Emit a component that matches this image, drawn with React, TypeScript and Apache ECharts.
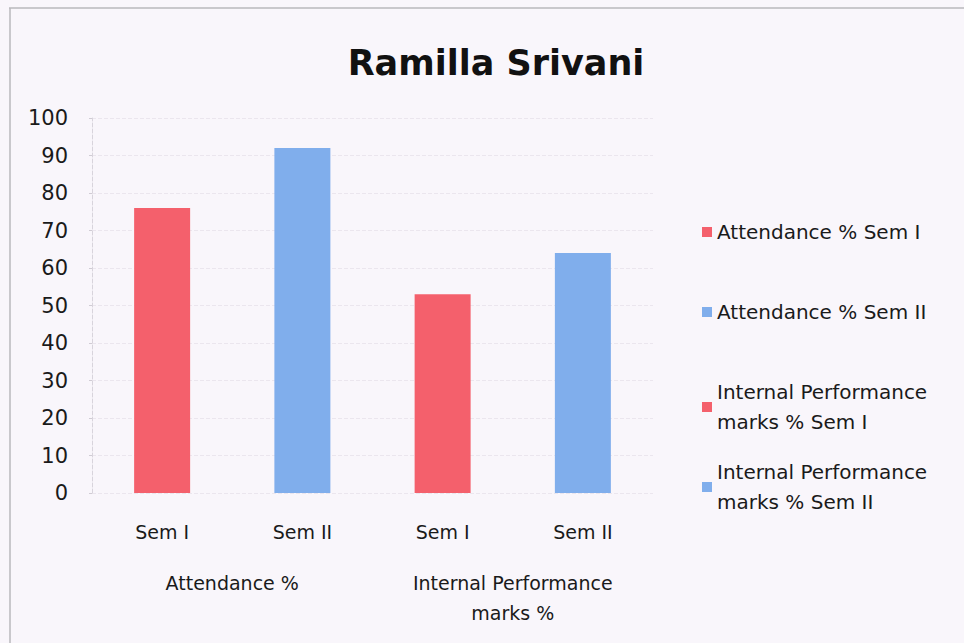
import React, { useEffect, useRef } from "react";
import * as echarts from "echarts";

const title = "Ramilla Srivani";
const semesters = ["Sem I", "Sem II", "Sem I", "Sem II"];
const groups = ["Attendance %", "Internal Performance\nmarks %"];
const seriesNames = [
  "Attendance % Sem I",
  "Attendance % Sem II",
  "Internal Performance\nmarks % Sem I",
  "Internal Performance\nmarks % Sem II",
];
const values = [76, 92, 53, 64];
const colors = ["#f4606c", "#80aeec", "#f4606c", "#80aeec"];
const legendTops = [212, 292, 372, 452];

const FONT = "DejaVu Sans";

export default function App() {
  const ref = useRef<HTMLDivElement>(null);
  useEffect(() => {
    const chart = echarts.init(ref.current!, null, { renderer: "svg" });
    const series = seriesNames.map((name, i) => ({
      name,
      type: "bar",
      stack: "all",
      barWidth: 56,
      data: values.map((v, j) => (j === i ? v : "-")),
      itemStyle: { color: colors[i] },
    }));
    const legends = seriesNames.map((name, i) => ({
      data: [name],
      left: 697,
      top: legendTops[i],
      orient: "vertical",
      icon: "rect",
      itemWidth: 10,
      itemHeight: 10,
      itemGap: 6,
      selectedMode: false,
      textStyle: { fontFamily: FONT, fontSize: 20, color: "#1a1a1a", lineHeight: 30 },
    }));
    chart.setOption({
      animation: false,
      backgroundColor: "#f9f6fb",
      title: {
        text: title,
        left: 491,
        top: 40,
        textAlign: "center",
        textStyle: { fontFamily: FONT, fontSize: 35, fontWeight: "bold", color: "#111" },
      },
      graphic: [
        { type: "line", shape: { x1: 9, y1: 8, x2: 964, y2: 8 }, style: { stroke: "#b8b8bc", lineWidth: 1.5 } },
        { type: "line", shape: { x1: 10, y1: 8, x2: 10, y2: 643 }, style: { stroke: "#b8b8bc", lineWidth: 1.5 } },
      ],
      legend: legends,
      grid: { left: 92, top: 118, width: 561, height: 375 },
      xAxis: [
        {
          type: "category",
          data: semesters,
          axisLine: { show: false },
          axisTick: { show: false },
          axisLabel: { fontFamily: FONT, fontSize: 19, color: "#1a1a1a", margin: 29 },
        },
        {
          type: "category",
          data: groups,
          position: "bottom",
          offset: 0,
          axisLine: { show: false },
          axisTick: { show: false },
          axisLabel: { fontFamily: FONT, fontSize: 19, color: "#1a1a1a", margin: 75, lineHeight: 30, verticalAlign: "top" },
        },
      ],
      yAxis: {
        type: "value",
        min: 0,
        max: 100,
        interval: 10,
        axisLine: { show: true, lineStyle: { color: "#d8d4dc", type: "dashed" } },
        axisTick: { show: true, length: 3, lineStyle: { color: "#d0ccd4" } },
        axisLabel: { fontFamily: FONT, fontSize: 21, color: "#1a1a1a", margin: 24 },
        splitLine: { lineStyle: { color: "#ebe6ee", type: "dashed" } },
      },
      series,
    });
    return () => chart.dispose();
  }, []);
  return (
    <div
      ref={ref}
      style={{ position: "fixed", left: 0, top: 0, width: 964, height: 643, background: "#f9f6fb" }}
    />
  );
}
